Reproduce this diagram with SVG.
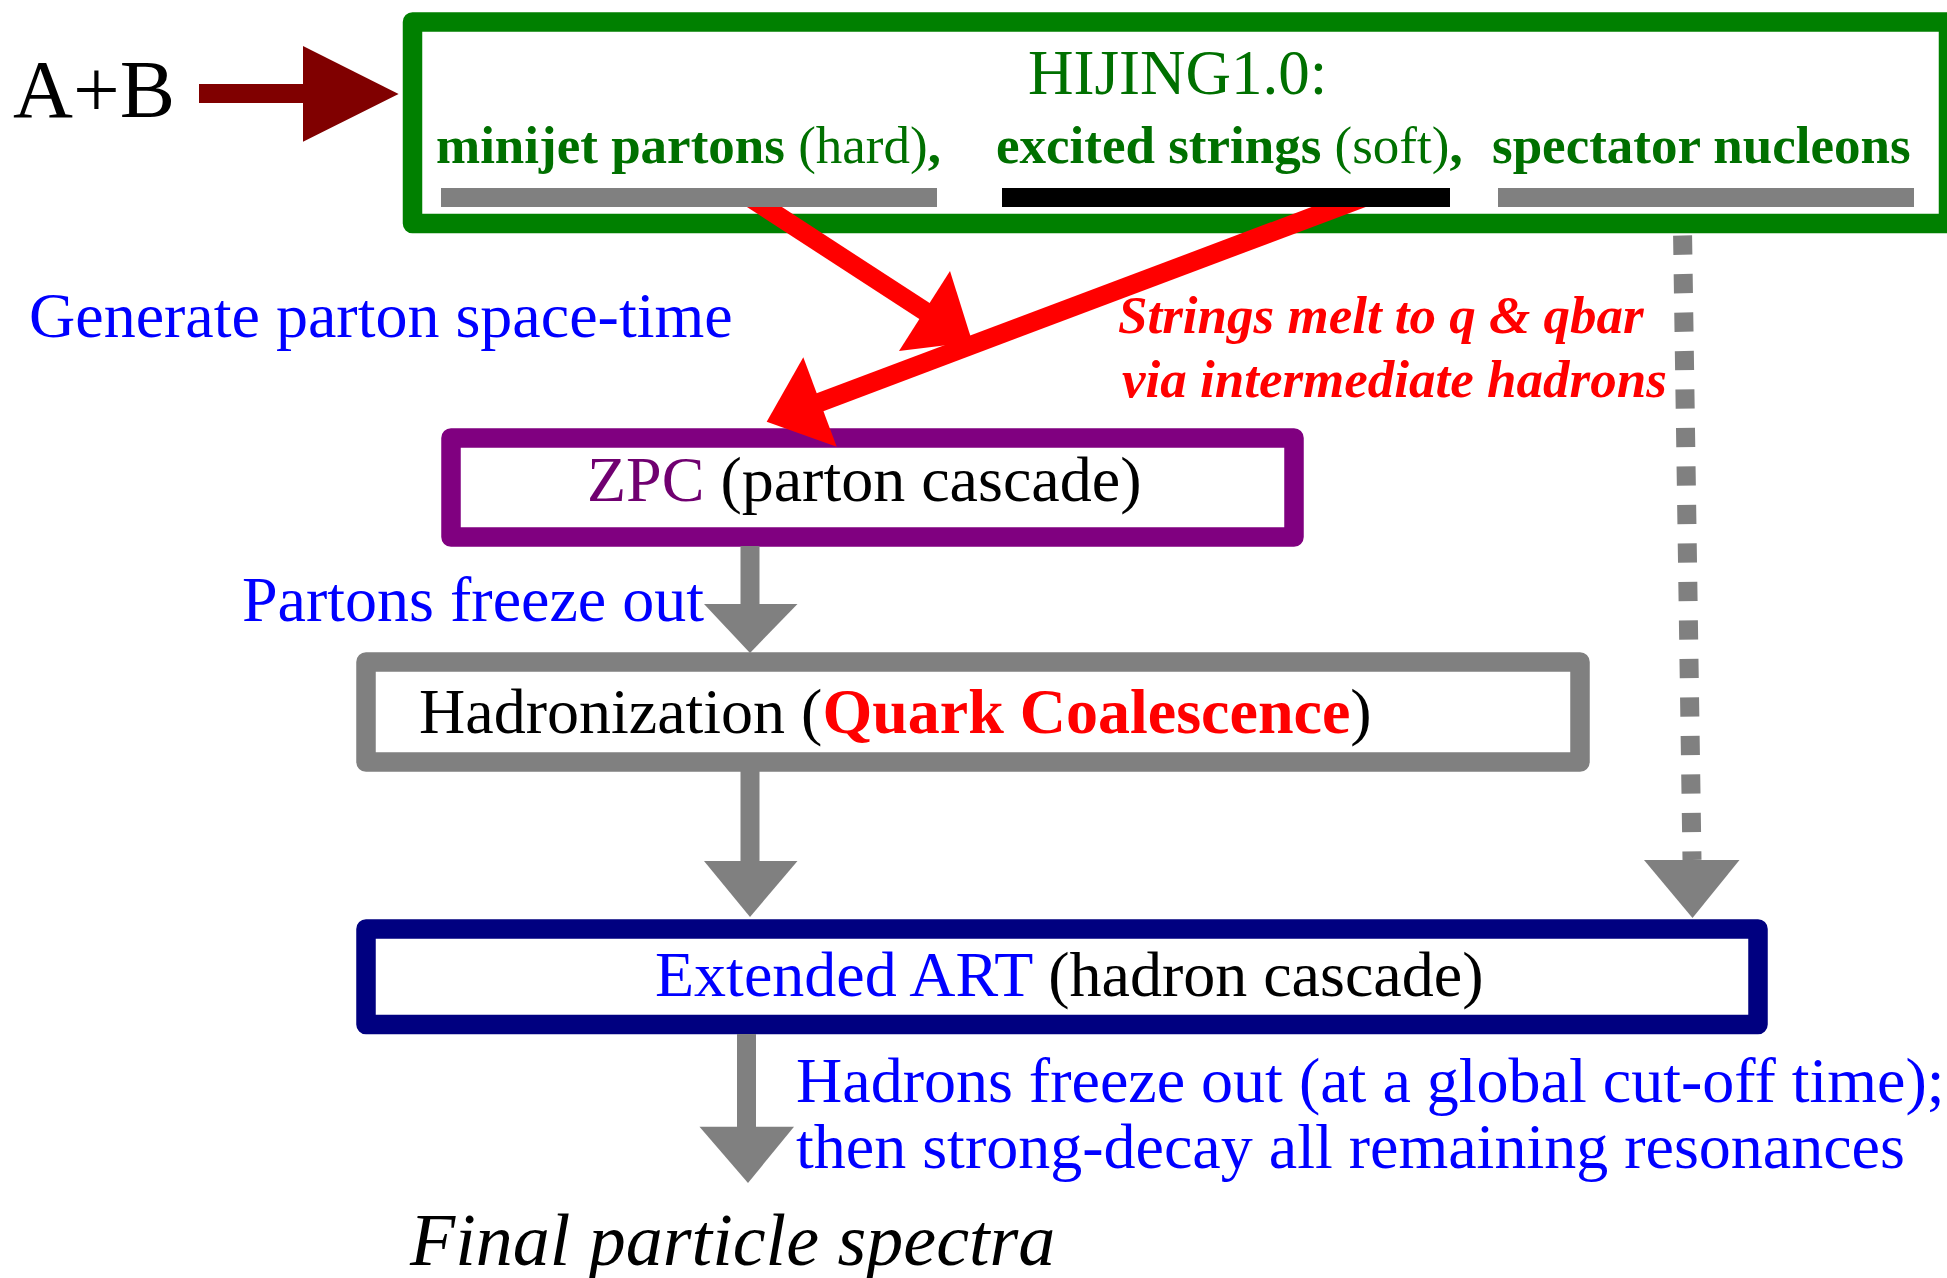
<svg xmlns="http://www.w3.org/2000/svg" width="1947" height="1278" viewBox="0 0 1947 1278">
<style>
text{font-family:"Liberation Serif","Times New Roman",serif;}
.box{fill:#fff;stroke-width:19.5;stroke-linejoin:round;}
.blue{fill:#0000ff;}
.grn{fill:#007000;}
.b{font-weight:bold;}
.gshaft{stroke:#808080;stroke-width:19;fill:none;}
.ghead{fill:#808080;}
.red{stroke:#ff0000;stroke-width:19;fill:none;}
.rhead{fill:#ff0000;}
</style>
<rect width="1947" height="1278" fill="#fff"/>
<g id="connectors-under">
<path d="M1682 197 L1692 860" stroke="#808080" stroke-width="19" stroke-dasharray="19.25 19.25" fill="none"/>
<polygon class="ghead" points="1644,860 1739.5,860 1692.5,918"/>
</g>
<g id="hijing">
<rect class="box" x="412.5" y="22" width="1536" height="201.5" stroke="#008000"/>
<text x="1028" y="94" font-size="63" class="grn">HIJING1.0:</text>
<text x="436" y="163" font-size="53" class="grn"><tspan class="b">minijet partons</tspan> (hard)<tspan class="b">,</tspan></text>
<text x="996" y="163" font-size="53" class="grn"><tspan class="b">excited strings</tspan> (soft)<tspan class="b">,</tspan></text>
<text x="1492" y="163" font-size="53" class="grn b">spectator nucleons</text>
</g>
<g id="zpc">
<rect class="box" x="451" y="438" width="843" height="99" stroke="#800080"/>
<text x="587" y="501" font-size="64"><tspan fill="#700070">ZPC</tspan> (parton cascade)</text>
</g>
<g id="hadronization">
<rect class="box" x="366" y="662" width="1214" height="100" stroke="#808080"/>
<text x="419" y="733" font-size="64">Hadronization (<tspan fill="#ff0000" font-weight="bold">Quark Coalescence</tspan>)</text>
</g>
<g id="art">
<rect class="box" x="366" y="929" width="1392" height="95.5" stroke="#000080"/>
<text x="655" y="996" font-size="64"><tspan fill="#0000ff">Extended ART</tspan> (hadron cascade)</text>
</g>
<g id="connectors">
<path class="red" d="M749 197 L926 312"/>
<polygon class="rhead" points="950,271 899,351 972.3,342.1"/>
<path class="red" d="M1365 197 L818 403"/>
<polygon class="rhead" points="803.3,357.3 836.7,446.7 766.7,421.7"/>
<path class="gshaft" d="M750 546 L750 606"/>
<polygon class="ghead" points="704,604 797.5,604 750,653"/>
<path class="gshaft" d="M750 771 L750 863"/>
<polygon class="ghead" points="704,861 797.5,861 750,917"/>
<path class="gshaft" d="M746.5 1034 L746.5 1129"/>
<polygon class="ghead" points="699.5,1126.7 794,1126.7 748,1183"/>
<path d="M199 93.5 L305 93.5" stroke="#800000" stroke-width="19" fill="none"/>
<polygon points="303,46 398.6,94 303,141.7" fill="#800000"/>
</g>
<g id="bars">
<rect x="441" y="188" width="496" height="19" fill="#808080"/>
<rect x="1002" y="188" width="448" height="19" fill="#000"/>
<rect x="1498" y="188" width="416" height="19" fill="#808080"/>
</g>
<g id="labels">
<text x="13" y="117" font-size="83" fill="#000">A+B</text>
<text x="29" y="337" font-size="64" class="blue">Generate parton space-time</text>
<text x="1118" y="333" font-size="53" fill="#ff0000" font-weight="bold" font-style="italic">Strings melt to q &amp; qbar</text>
<text x="1122" y="397" font-size="53" fill="#ff0000" font-weight="bold" font-style="italic">via intermediate hadrons</text>
<text x="242" y="621" font-size="64" class="blue">Partons freeze out</text>
<text x="796" y="1102" font-size="64" class="blue">Hadrons freeze out (at a global cut-off time);</text>
<text x="796" y="1168" font-size="64" class="blue">then strong-decay all remaining resonances</text>
<text x="410" y="1265" font-size="74" font-style="italic" fill="#000">Final particle spectra</text>
</g>
</svg>
